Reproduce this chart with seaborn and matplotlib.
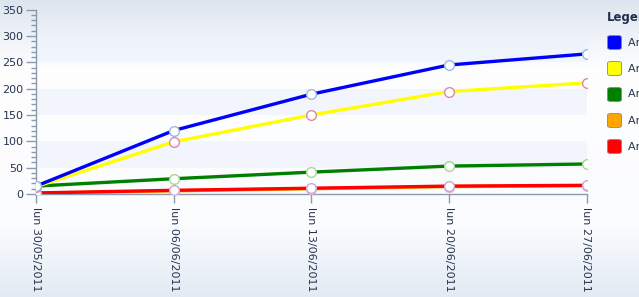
import numpy as np
import pandas as pd
import matplotlib
matplotlib.use("Agg")
import matplotlib.pyplot as plt
import seaborn as sns
from matplotlib.patches import FancyBboxPatch

# ---------------- data ----------------
dates = ["2011-05-30", "2011-06-06", "2011-06-13", "2011-06-20", "2011-06-27"]
date_labels = ["lun 30/05/2011", "lun 06/06/2011", "lun 13/06/2011",
               "lun 20/06/2011", "lun 27/06/2011"]
series_names = ["Article 1", "Article 2", "Article 3", "Article 4", "Article 5"]
blue_vals = [15, 120.5, 189.5, 245, 266]
yellow_vals = [14, 99, 150, 194.5, 211]
green_vals = [15, 29, 41.5, 53, 57]
orange_vals = [1.5, 6, 10, 14, 15.5]
red_vals = [2, 7, 11, 15, 16.5]
y_ticks = [0, 50, 100, 150, 200, 250, 300, 350]
legend_title = "Legend"

sns.set_style("white")
plt.rcParams['font.family'] = ['DejaVu Sans']

W, H = 639, 297
fig = plt.figure(figsize=(W / 100, H / 100), dpi=100)

# background gradient
bg = fig.add_axes([0, 0, 1, 1], zorder=-10)
rows = np.arange(H)
r = np.interp(rows, [0, 45, 70, 225, 297], [0xdc, 0xf3, 0xfe, 0xfb, 0xe1]) / 255
g = np.interp(rows, [0, 45, 70, 225, 297], [0xe5, 0xf6, 0xfe, 0xfc, 0xea]) / 255
b = np.interp(rows, [0, 45, 70, 225, 297], [0xef, 0xfa, 0xff, 0xfe, 0xf3]) / 255
grad = np.stack([r, g, b], axis=1)[:, None, :].repeat(2, axis=1)
bg.imshow(grad, aspect='auto', extent=[0, 1, 0, 1], origin='upper')
bg.set_axis_off()

left, right = 36 / W, 586.5 / W
bottom, top = (H - 194) / H, (H - 9.7) / H
ax = fig.add_axes([left, bottom, right - left, top - bottom])
ax.set_facecolor('none')

x = pd.to_datetime(dates)
df = pd.DataFrame({"date": x, "blue": blue_vals, "yellow": yellow_vals,
                   "green": green_vals, "orange": orange_vals, "red": red_vals})

# bands
for lo in (50, 150, 250):
    ax.axhspan(lo, lo + 50, color='#eef3fc', alpha=0.7, lw=0, zorder=0)

specs = [
    ("orange", "#ffa500", "#e8b4c8"),
    ("red", "#ff0000", "#c9a6d4"),
    ("green", "#008000", "#a8d890"),
    ("yellow", "#ffff00", "#d98aa8"),
    ("blue", "#0000ff", "#9ab8e0"),
]
for col, c, ec in specs:
    sns.lineplot(data=df, x="date", y=col, color=c, linewidth=2.4,
                 marker='o', markersize=7, markerfacecolor='white',
                 markeredgecolor=ec, markeredgewidth=1.0, ax=ax, zorder=3)

ax.set_xlim(x[0], x[-1])
ax.set_ylim(0, 350)
ax.set_xlabel("")
ax.set_ylabel("")

axis_col = '#8c9ab0'
text_col = '#26344f'
for s in ("top", "right"):
    ax.spines[s].set_visible(False)
for s in ("left", "bottom"):
    ax.spines[s].set_color(axis_col)
    ax.spines[s].set_linewidth(1.0)

ax.set_yticks(y_ticks)
ax.set_yticks(np.arange(0, 351, 10), minor=True)
ax.tick_params(axis='y', which='major', length=7.5, width=1, color=axis_col,
               labelsize=8, labelcolor=text_col, pad=1.5, direction='out', left=True)
ax.tick_params(axis='y', which='minor', length=3.5, width=1, color=axis_col,
               direction='out', left=True)
ax.set_xticks(x)
ax.set_xticklabels(date_labels, rotation=270, fontsize=8, color=text_col)
ax.tick_params(axis='x', which='major', length=6.5, width=1, color=axis_col,
               pad=3, direction='out', bottom=True)
ax.grid(False)

# legend (manual, clipped by figure edge)
fig.text(607 / W, 1 - 17 / H, legend_title, fontsize=8.5, fontweight='bold',
         color='#1f2f4f', va='center', ha='left')
leg_cols = ["#0000ff", "#ffff00", "#008000", "#ffa500", "#ff0000"]
for i, (name, c) in enumerate(zip(series_names, leg_cols)):
    yc = 42.5 + 26 * i
    p = FancyBboxPatch(((607.5) / W, 1 - (yc + 7) / H), 14 / W, 14 / H,
                       boxstyle="round,pad=0,rounding_size=0.006",
                       transform=fig.transFigure, facecolor=c,
                       edgecolor='#7a8aa0', linewidth=0.6, figure=fig)
    fig.patches.append(p)
    fig.text(628 / W, 1 - yc / H, name, fontsize=8, color=text_col,
             va='center', ha='left')

fig.savefig("out.png", dpi=100)
